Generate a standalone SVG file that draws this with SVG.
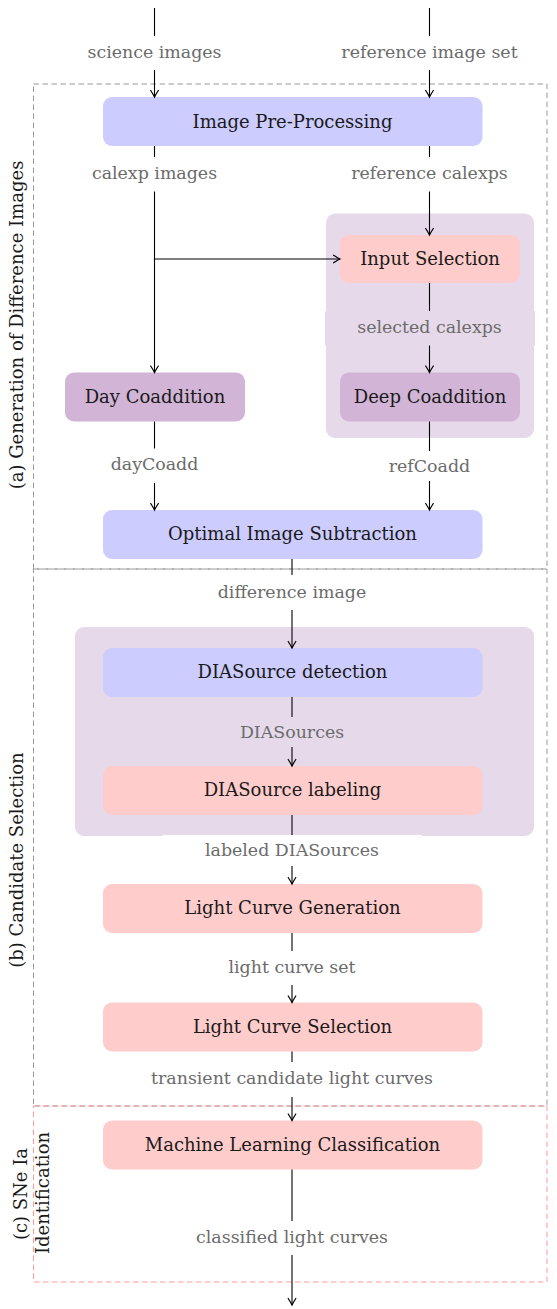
<svg xmlns="http://www.w3.org/2000/svg" width="557" height="1309" viewBox="0 0 557 1309">
<style>
.frame{fill:none;stroke:#999999;stroke-width:1;stroke-dasharray:5.5 3.5}
.frame-red{fill:none;stroke:#ff9999;stroke-width:1;stroke-dasharray:5.5 3.5}
.cont{fill:#e6d9ea}
.blue{fill:#ccccff}
.pink{fill:#ffcccc}
.purp{fill:#d1b4d6}
.nt{font-family:"DejaVu Serif",serif;font-size:18px;fill:#1a1a1a;text-anchor:middle}
.lt{font-family:"DejaVu Serif",serif;font-size:17.4px;fill:#6b6b6b;text-anchor:middle}
.st{font-family:"DejaVu Serif",serif;font-size:18px;fill:#1a1a1a;text-anchor:middle}
.edge{fill:none;stroke:#000;stroke-width:1.1;marker-end:url(#ah)}
.bgw{fill:#ffffff}
.bgp{fill:#e6d9ea}
</style>
<defs>
<marker id="ah" markerUnits="userSpaceOnUse" markerWidth="12" markerHeight="12" viewBox="-10 -6 12 12" refX="0" refY="0" orient="auto">
<path d="M-6.5,-3.8 C-3.8,-2.1 -1.3,-0.6 0,0 C-1.3,0.6 -3.8,2.1 -6.5,3.8" fill="none" stroke="#000" stroke-width="1.2" stroke-linecap="round"/>
</marker>
</defs>

<g id="frames">
<rect id="frame-a" class="frame" x="33.5" y="84" width="513.5" height="485"/>
<rect id="frame-b" class="frame" x="33.5" y="569" width="513.5" height="537"/>
<rect id="frame-c" class="frame-red" x="33.5" y="1106" width="513.5" height="176"/>
</g>

<g id="containers">
<rect id="container-deep" class="cont" x="326" y="213.5" width="208" height="224.5" rx="9"/>
<rect id="container-dia" class="cont" x="75" y="627" width="459" height="209" rx="9"/>
</g>

<g id="node-preproc"><rect class="blue" x="103" y="97" width="379.5" height="49" rx="9"/><text class="nt" x="292.5" y="127.5">Image Pre-Processing</text></g>
<g id="node-input"><rect class="pink" x="340" y="235" width="180" height="48" rx="9"/><text class="nt" x="430" y="264.5">Input Selection</text></g>
<g id="node-day"><rect class="purp" x="65" y="372.5" width="180" height="49" rx="9"/><text class="nt" x="155" y="402.5">Day Coaddition</text></g>
<g id="node-deep"><rect class="purp" x="340" y="372.5" width="180" height="49" rx="9"/><text class="nt" x="430" y="402.5">Deep Coaddition</text></g>
<g id="node-ois"><rect class="blue" x="103" y="510" width="379.5" height="49" rx="9"/><text class="nt" x="292.5" y="540">Optimal Image Subtraction</text></g>
<g id="node-detect"><rect class="blue" x="103" y="648" width="379.5" height="49" rx="9"/><text class="nt" x="292.5" y="678">DIASource detection</text></g>
<g id="node-label"><rect class="pink" x="103" y="766" width="379.5" height="49" rx="9"/><text class="nt" x="292.5" y="796">DIASource labeling</text></g>
<g id="node-lcgen"><rect class="pink" x="103" y="884" width="379.5" height="49" rx="9"/><text class="nt" x="292.5" y="914">Light Curve Generation</text></g>
<g id="node-lcsel"><rect class="pink" x="103" y="1002.5" width="379.5" height="49" rx="9"/><text class="nt" x="292.5" y="1032.5">Light Curve Selection</text></g>
<g id="node-ml"><rect class="pink" x="103" y="1120.5" width="379.5" height="49" rx="9"/><text class="nt" x="292.5" y="1150.5">Machine Learning Classification</text></g>

<g id="connectors">
<path class="edge" d="M154.5,8 V97"/>
<path class="edge" d="M429.5,8 V97"/>
<path class="edge" d="M154.5,146 V372.5"/>
<path class="edge" d="M154.5,259 H340"/>
<path class="edge" d="M429.5,146 V235"/>
<path class="edge" d="M429.5,283 V372.5"/>
<path class="edge" d="M154.5,421.5 V510"/>
<path class="edge" d="M429.5,421.5 V510"/>
<path class="edge" d="M292,559 V648"/>
<path class="edge" d="M292,697 V766"/>
<path class="edge" d="M292,815 V884"/>
<path class="edge" d="M292,933 V1002.5"/>
<path class="edge" d="M292,1051.5 V1120.5"/>
<path class="edge" d="M292,1169.5 V1305"/>
</g>

<g id="edge-labels">
<g id="lbl-science"><rect class="bgw" x="82" y="36" width="145" height="34"/><text class="lt" x="154.5" y="57.5">science images</text></g>
<g id="lbl-refset"><rect class="bgw" x="338" y="36" width="183" height="34"/><text class="lt" x="429.5" y="57.5">reference image set</text></g>
<g id="lbl-calexp"><rect class="bgw" x="86" y="157" width="138" height="34.5"/><text class="lt" x="154.5" y="178.5">calexp images</text></g>
<g id="lbl-refcalexp"><rect class="bgw" x="346" y="157" width="167" height="34.5"/><text class="lt" x="429.5" y="178.5">reference calexps</text></g>
<g id="lbl-selected"><rect class="bgp" x="325" y="311" width="210" height="34.5"/><text class="lt" x="429.5" y="332.5">selected calexps</text></g>
<g id="lbl-daycoadd"><rect class="bgw" x="104" y="448.5" width="101" height="34.5"/><text class="lt" x="154.5" y="470">dayCoadd</text></g>
<g id="lbl-refcoadd"><rect class="bgw" x="384" y="451" width="91" height="30"/><text class="lt" x="429.5" y="472">refCoadd</text></g>
<g id="lbl-diff"><rect class="bgw" x="213" y="575" width="158" height="35"/><text class="lt" x="292" y="597.5">difference image</text></g>
<g id="lbl-diasrc"><rect class="bgp" x="232" y="717" width="120" height="30"/><text class="lt" x="292" y="738">DIASources</text></g>
<g id="lbl-labeled"><rect class="bgw" x="163" y="835" width="259" height="31"/><text class="lt" x="292" y="855.5">labeled DIASources</text></g>
<g id="lbl-lcset"><rect class="bgw" x="220" y="951" width="144" height="34"/><text class="lt" x="292" y="972.5">light curve set</text></g>
<g id="lbl-transient"><rect class="bgw" x="138" y="1062" width="308" height="35"/><text class="lt" x="292" y="1084">transient candidate light curves</text></g>
<g id="lbl-classified"><rect class="bgw" x="183" y="1221" width="218" height="34"/><text class="lt" x="292" y="1242.5">classified light curves</text></g>
</g>

<g id="section-labels">
<text class="st" transform="translate(23,325) rotate(-90)">(a) Generation of Difference Images</text>
<text class="st" transform="translate(23,860) rotate(-90)">(b) Candidate Selection</text>
<text class="st" transform="translate(27,1194) rotate(-90)">(c) SNe Ia</text>
<text class="st" transform="translate(49,1193) rotate(-90)">Identification</text>
</g>
</svg>
